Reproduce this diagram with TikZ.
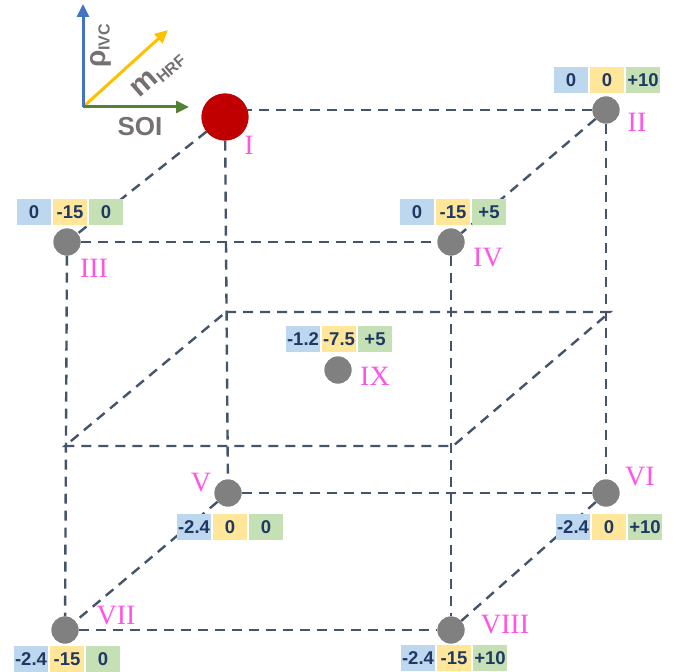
\documentclass[tikz,border=0pt]{standalone}
\usepackage{fontspec}
\setmainfont{Liberation Serif}
\setsansfont{Liberation Sans}
\usetikzlibrary{arrows.meta}

\definecolor{edgec}{HTML}{44546A}
\definecolor{vblue}{HTML}{BDD7EE}
\definecolor{vyellow}{HTML}{FFE699}
\definecolor{vgreen}{HTML}{C5E0B4}
\definecolor{valtext}{HTML}{1F3864}
\definecolor{romanc}{HTML}{FF55E6}
\definecolor{dotgrey}{HTML}{808080}
\definecolor{dotred}{HTML}{C00000}
\definecolor{axblue}{HTML}{4472C4}
\definecolor{axyellow}{HTML}{FFC000}
\definecolor{axgreen}{HTML}{538135}
\definecolor{axlabel}{HTML}{767171}

\tikzset{
  cubeedge/.style={draw=edgec, line width=2.4pt, dash pattern=on 10pt off 7pt},
  dot/.style={circle, fill=dotgrey, minimum size=27pt, inner sep=0pt},
  bigdot/.style={circle, fill=dotred, minimum size=47pt, inner sep=0pt},
  valbox/.style={rectangle, minimum width=34pt, minimum height=26pt, inner sep=0pt,
    text height=13pt, text depth=0pt, text=valtext,
    font=\sffamily\bfseries\fontsize{18.5}{18.5}\selectfont},
  roman/.style={inner sep=0pt, text height=19pt, text depth=0pt, text=romanc,
    font=\fontsize{28}{28}\selectfont},
  axis/.style={line width=3pt, -{Triangle[length=13pt,width=12pt]}},
  axname/.style={inner sep=0pt, text=axlabel, font=\sffamily\bfseries}
}

% three coloured value cells: name, x, y (centre of middle cell), values
\newcommand\valrow[6]{%
  \node[valbox, fill=vblue]   (#1a) at (#2-36,#3) {#4};
  \node[valbox, fill=vyellow] (#1b) at (#2,#3)    {#5};
  \node[valbox, fill=vgreen]  (#1c) at (#2+36,#3) {#6};
}

\begin{document}
\begin{tikzpicture}[x=1pt, y=-1pt]
\useasboundingbox (0,0) rectangle (687,671);

% design points
\node[bigdot] (I)    at (225,117) {};
\node[dot]    (II)   at (606,110) {};
\node[dot]    (III)  at (67,242)  {};
\node[dot]    (IV)   at (451,242) {};
\node[dot]    (V)    at (228,493) {};
\node[dot]    (VI)   at (606,493) {};
\node[dot]    (VII)  at (65,630)  {};
\node[dot]    (VIII) at (451,630) {};
\node[dot]    (IX)   at (338,370) {};

% mid-height slice corners
\coordinate (mbl) at (226,312);
\coordinate (mbr) at (610,312);
\coordinate (mfl) at (65,446);
\coordinate (mfr) at (453,446);

% cube edges
\draw[cubeedge] (II) -- (I.center |- II);
\draw[cubeedge] (I) -- (III);
\draw[cubeedge] (II) -- (IV);
\draw[cubeedge] (III) -- (IV);
\draw[cubeedge] (I) -- (V);
\draw[cubeedge] (II) -- (VI);
\draw[cubeedge] (III) -- (VII);
\draw[cubeedge] (IV) -- (VIII);
\draw[cubeedge] (V) -- (VI);
\draw[cubeedge] (V) -- (VII);
\draw[cubeedge] (VI) -- (VIII);
\draw[cubeedge] (VII) -- (VIII);
\draw[cubeedge] (mbl) -- (mbr) -- (mfr) -- (mfl) -- cycle;

% redraw the points over the edges
\node[bigdot] at (I) {};
\foreach \p in {II,III,IV,V,VI,VII,VIII,IX} \node[dot] at (\p) {};

% factor levels
\valrow{vII}{607}{80}{0}{0}{+10}
\valrow{vIII}{70}{212}{0}{-15}{0}
\valrow{vIV}{453}{212}{0}{-15}{+5}
\valrow{vIX}{339}{339}{-1.2}{-7.5}{+5}
\valrow{vV}{230}{527}{-2.4}{0}{0}
\valrow{vVI}{609}{527}{-2.4}{0}{+10}
\valrow{vVII}{67}{659}{-2.4}{-15}{0}
\valrow{vVIII}{454}{658}{-2.4}{-15}{+10}

% point labels
\node[roman] (lI)    at (249,145) {I};
\node[roman] (lII)   at (637,122) {II};
\node[roman] (lIII)  at (94,268)  {III};
\node[roman] (lIV)   at (488,257) {IV};
\node[roman] (lV)    at (201,482) {V};
\node[roman] (lVI)   at (640,476) {VI};
\node[roman] (lVII)  at (116,615) {VII};
\node[roman] (lVIII) at (505,624) {VIII};
\node[roman] (lIX)   at (375,376) {IX};

% axis legend
\coordinate (o) at (83,107);
\coordinate (ay) at (83,4);
\coordinate (ax) at (189,107);
\coordinate (ad) at (168,30);
\draw[axis, axyellow] (o) -- (ad);
\draw[axis, axblue] (o) -- (ay);
\draw[axis, axgreen] (o) -- (ax);
\node[axname, rotate=90] (rho) at (101,46)
  {{\fontsize{28}{28}\selectfont ρ}\raisebox{-4pt}{\fontsize{16}{16}\selectfont IVC}};
\node[axname, rotate=41] (mh) at (158,74)
  {{\fontsize{30}{30}\selectfont m}\raisebox{-4pt}{\fontsize{16}{16}\selectfont HRF}};
\node[axname] (soi) at (140,127) {\fontsize{26}{26}\selectfont SOI};
\end{tikzpicture}
\end{document}
